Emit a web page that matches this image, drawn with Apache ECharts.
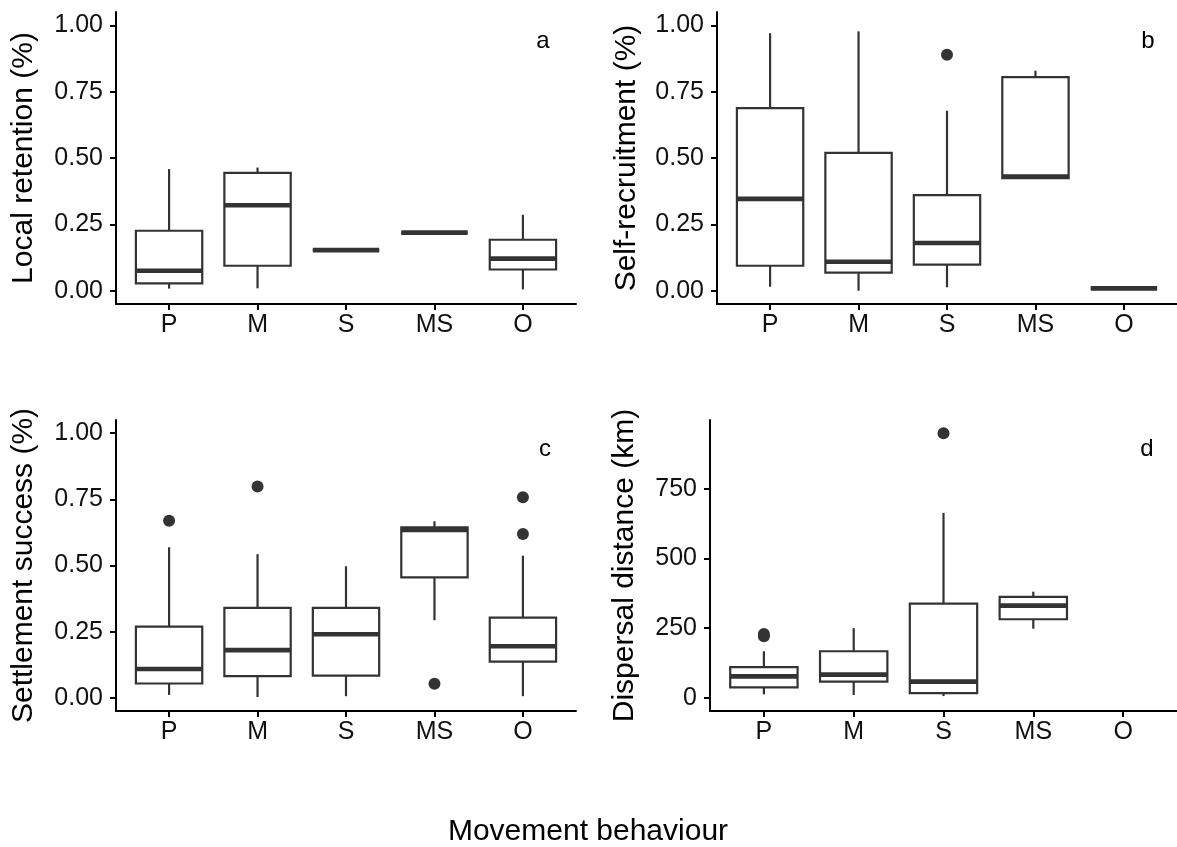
<!DOCTYPE html>
<html>
<head>
<meta charset="utf-8">
<script src="https://cdn.jsdelivr.net/npm/echarts@6/dist/echarts.min.js"></script>
<style>
  html, body { margin: 0; padding: 0; background: #fff; }
  #chart { width: 1177px; height: 847px; }
</style>
</head>
<body>
<div id="chart"></div>
<script>
const categories = ['P', 'M', 'S', 'MS', 'O'];

// each row: [min, Q1, median, Q3, max]
const localRetention = [
  [0.008, 0.028, 0.075, 0.226, 0.458],
  [0.009, 0.094, 0.322, 0.444, 0.464],
  [0.153, 0.153, 0.153, 0.153, 0.153],
  [0.219, 0.219, 0.219, 0.219, 0.219],
  [0.005, 0.080, 0.121, 0.192, 0.286]
];
const localRetentionOutliers = [];

const selfRecruitment = [
  [0.015, 0.094, 0.346, 0.688, 0.970],
  [0.000, 0.068, 0.109, 0.519, 0.977],
  [0.013, 0.098, 0.180, 0.360, 0.678],
  [0.424, 0.424, 0.430, 0.805, 0.829],
  [0.009, 0.009, 0.009, 0.009, 0.009]
];
const selfRecruitmentOutliers = [[2, 0.889]];

const settlementSuccess = [
  [0.011, 0.054, 0.109, 0.269, 0.569],
  [0.003, 0.082, 0.180, 0.340, 0.543],
  [0.006, 0.084, 0.240, 0.340, 0.497],
  [0.293, 0.455, 0.634, 0.644, 0.667],
  [0.006, 0.137, 0.195, 0.303, 0.537]
];
const settlementSuccessOutliers = [[0, 0.669], [1, 0.799], [3, 0.053], [4, 0.758], [4, 0.619]];

const dispersalDistance = [
  [12, 37, 77, 110, 167],
  [10, 58, 83, 167, 250],
  [6, 17, 58, 338, 664],
  [248, 282, 331, 362, 381],
  null
];
const dispersalDistanceOutliers = [[0, 221], [0, 229], [2, 950]];

const pctTicks = [0, 0.25, 0.5, 0.75, 1];
const kmTicks = [0, 250, 500, 750];
const catTicks = [0, 1, 2, 3, 4];

const FONT = 'Liberation Sans, Arial, Helvetica, sans-serif';
const INK = '#333333';

const panels = [
  { name: 'Local retention (%)', stats: localRetention, outliers: localRetentionOutliers,
    ticks: pctTicks, min: -0.05, max: 1.05, digits: 2, grid: { left: 116, top: 12, width: 460, height: 292 }, gap: 77 },
  { name: 'Self-recruitment (%)', stats: selfRecruitment, outliers: selfRecruitmentOutliers,
    ticks: pctTicks, min: -0.05, max: 1.05, digits: 2, grid: { left: 717, top: 12, width: 460, height: 292 }, gap: 75 },
  { name: 'Settlement success (%)', stats: settlementSuccess, outliers: settlementSuccessOutliers,
    ticks: pctTicks, min: -0.05, max: 1.05, digits: 2, grid: { left: 116, top: 420, width: 460, height: 291 }, gap: 77 },
  { name: 'Dispersal distance (km)', stats: dispersalDistance, outliers: dispersalDistanceOutliers,
    ticks: kmTicks, min: -47.5, max: 997.5, digits: 0, grid: { left: 710, top: 420, width: 467, height: 291 }, gap: 70 }
];

// box + whiskers + thick median, ggplot style (no whisker caps)
function renderBox(params, api) {
  const i = api.value(0);
  const halfW = 0.375;
  const pMin = api.coord([i, api.value(1)]);
  const pQ1 = api.coord([i, api.value(2)]);
  const pMed = api.coord([i, api.value(3)]);
  const pQ3 = api.coord([i, api.value(4)]);
  const pMax = api.coord([i, api.value(5)]);
  const x0 = api.coord([i - halfW, 0])[0];
  const x1 = api.coord([i + halfW, 0])[0];
  const thin = { stroke: INK, lineWidth: 2.2, fill: null };
  return {
    type: 'group',
    children: [
      { type: 'line', shape: { x1: pQ3[0], y1: pQ3[1], x2: pMax[0], y2: pMax[1] }, style: thin },
      { type: 'line', shape: { x1: pMin[0], y1: pMin[1], x2: pQ1[0], y2: pQ1[1] }, style: thin },
      { type: 'rect', shape: { x: x0, y: pQ3[1], width: x1 - x0, height: pQ1[1] - pQ3[1] },
        style: { fill: '#fff', stroke: INK, lineWidth: 2.2 } },
      { type: 'line', shape: { x1: x0, y1: pMed[1], x2: x1, y2: pMed[1] },
        style: { stroke: INK, lineWidth: 4.6 } }
    ]
  };
}

const axisLine = { show: true, onZero: false, lineStyle: { color: '#000', width: 2 } };
const axisTick = { show: true, length: 6, lineStyle: { color: '#000', width: 2 } };

const option = {
  animation: false,
  backgroundColor: '#fff',
  grid: panels.map(p => Object.assign({ outerBoundsMode: 'none', containLabel: false }, p.grid)),
  xAxis: panels.map((p, k) => ({
    type: 'value',
    gridIndex: k,
    min: -0.6,
    max: 4.6,
    splitLine: { show: false },
    axisLine: axisLine,
    axisTick: Object.assign({ customValues: catTicks }, axisTick),
    axisLabel: {
      customValues: catTicks,
      formatter: v => categories[Math.round(v)],
      fontFamily: FONT, fontSize: 25, color: '#111', margin: 9
    }
  })),
  yAxis: panels.map((p, k) => ({
    type: 'value',
    gridIndex: k,
    min: p.min,
    max: p.max,
    name: p.name,
    nameLocation: 'middle',
    nameGap: p.gap,
    nameTextStyle: { fontFamily: FONT, fontSize: 30, color: '#000' },
    splitLine: { show: false },
    axisLine: axisLine,
    axisTick: Object.assign({ customValues: p.ticks }, axisTick),
    axisLabel: {
      customValues: p.ticks,
      formatter: v => v.toFixed(p.digits),
      fontFamily: FONT, fontSize: 25, color: '#111', margin: 13
    }
  })),
  series: [].concat(...panels.map((p, k) => [
    {
      type: 'custom',
      xAxisIndex: k,
      yAxisIndex: k,
      renderItem: renderBox,
      encode: { x: 0, y: [1, 2, 3, 4, 5] },
      data: p.stats.map((s, i) => (s ? [i].concat(s) : null)).filter(Boolean)
    },
    {
      type: 'scatter',
      xAxisIndex: k,
      yAxisIndex: k,
      symbolSize: 12,
      itemStyle: { color: INK, opacity: 1 },
      data: p.outliers
    }
  ])),
  graphic: [
    { type: 'text', x: 543, y: 41, style: { text: 'a', font: '24px ' + FONT, fill: '#000', align: 'center', verticalAlign: 'middle' } },
    { type: 'text', x: 1148, y: 41, style: { text: 'b', font: '24px ' + FONT, fill: '#000', align: 'center', verticalAlign: 'middle' } },
    { type: 'text', x: 545, y: 449, style: { text: 'c', font: '24px ' + FONT, fill: '#000', align: 'center', verticalAlign: 'middle' } },
    { type: 'text', x: 1147, y: 449, style: { text: 'd', font: '24px ' + FONT, fill: '#000', align: 'center', verticalAlign: 'middle' } },
    { type: 'text', x: 588, y: 832, style: { text: 'Movement behaviour', font: '30px ' + FONT, fill: '#000', align: 'center', verticalAlign: 'middle' } }
  ]
};

const chart = echarts.init(document.getElementById('chart'), null, { renderer: 'canvas' });
chart.setOption(option);
window.addEventListener('resize', () => chart.resize());
</script>
</body>
</html>
